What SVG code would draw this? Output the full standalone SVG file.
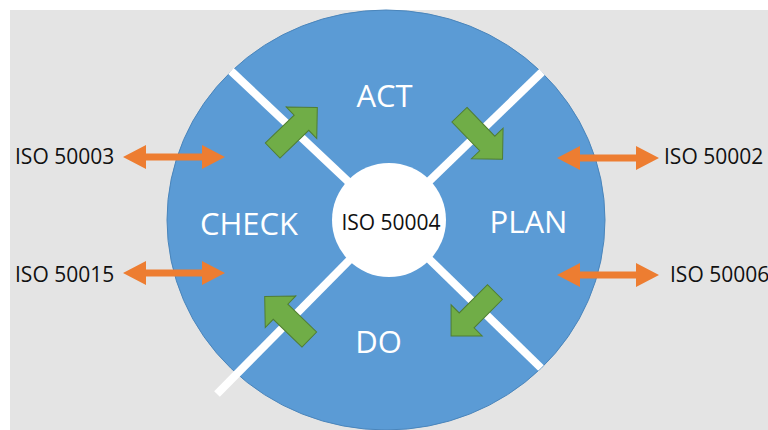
<svg xmlns="http://www.w3.org/2000/svg" width="768" height="430" viewBox="0 0 768 430">
<defs>
<style>
.lbl{font-family:"Open Sans","Liberation Sans",sans-serif;font-size:21px;fill:#111}
.big{font-family:"Open Sans","Liberation Sans",sans-serif;font-size:31px;fill:#fff;text-anchor:middle}
.div{stroke:#fff;stroke-width:8;fill:none}
.garrow{fill:#70ad47;stroke:#507e32;stroke-width:1}
.oarrow{fill:#ed7d31}
</style>
<path id="ga" d="M-31,-10.5 L9,-10.5 L9,-22 L31,0 L9,22 L9,10.5 L-31,10.5 Z"/>
<path id="oa" d="M0,0 L23,-12 L23,-3.5 L79,-3.5 L79,-12 L102,0 L79,12 L79,3.5 L23,3.5 L23,12 Z"/>
</defs>
<rect x="0" y="0" width="768" height="430" fill="#fff"/>
<rect x="10" y="10" width="758" height="420" fill="#e4e4e4"/>
<g id="cycle">
<ellipse cx="386" cy="220" rx="219" ry="210" fill="#5b9bd5" stroke="#4a85bb" stroke-width="1"/>
</g>
<g id="connectors">
<line class="div" x1="389" y1="220" x2="231" y2="71"/>
<line class="div" x1="389" y1="220" x2="542" y2="72"/>
<line class="div" x1="389" y1="220" x2="217" y2="394"/>
<line class="div" x1="389" y1="220" x2="541" y2="368"/>
<use href="#ga" class="garrow" transform="translate(295,129) rotate(-44)"/>
<use href="#ga" class="garrow" transform="translate(481,137) rotate(46)"/>
<use href="#ga" class="garrow" transform="translate(287,318) rotate(-136)"/>
<use href="#ga" class="garrow" transform="translate(473,314) rotate(135)"/>
<use href="#oa" class="oarrow" transform="translate(123,157)"/>
<use href="#oa" class="oarrow" transform="translate(123,273)"/>
<use href="#oa" class="oarrow" transform="translate(557,158)"/>
<use href="#oa" class="oarrow" transform="translate(557,275)"/>
</g>
<g id="center">
<circle cx="389" cy="220" r="57" fill="#fff"/>
<text class="lbl" x="391" y="230" text-anchor="middle">ISO 50004</text>
</g>
<g id="act"><text class="big" x="384.5" y="107">ACT</text></g>
<g id="check"><text class="big" x="249" y="235">CHECK</text></g>
<g id="plan"><text class="big" x="528.5" y="233">PLAN</text></g>
<g id="do"><text class="big" x="378.5" y="353">DO</text></g>
<g id="iso50003"><text class="lbl" x="15" y="164">ISO 50003</text></g>
<g id="iso50015"><text class="lbl" x="15" y="282">ISO 50015</text></g>
<g id="iso50002"><text class="lbl" x="664" y="164">ISO 50002</text></g>
<g id="iso50006"><text class="lbl" x="670" y="282">ISO 50006</text></g>
</svg>
